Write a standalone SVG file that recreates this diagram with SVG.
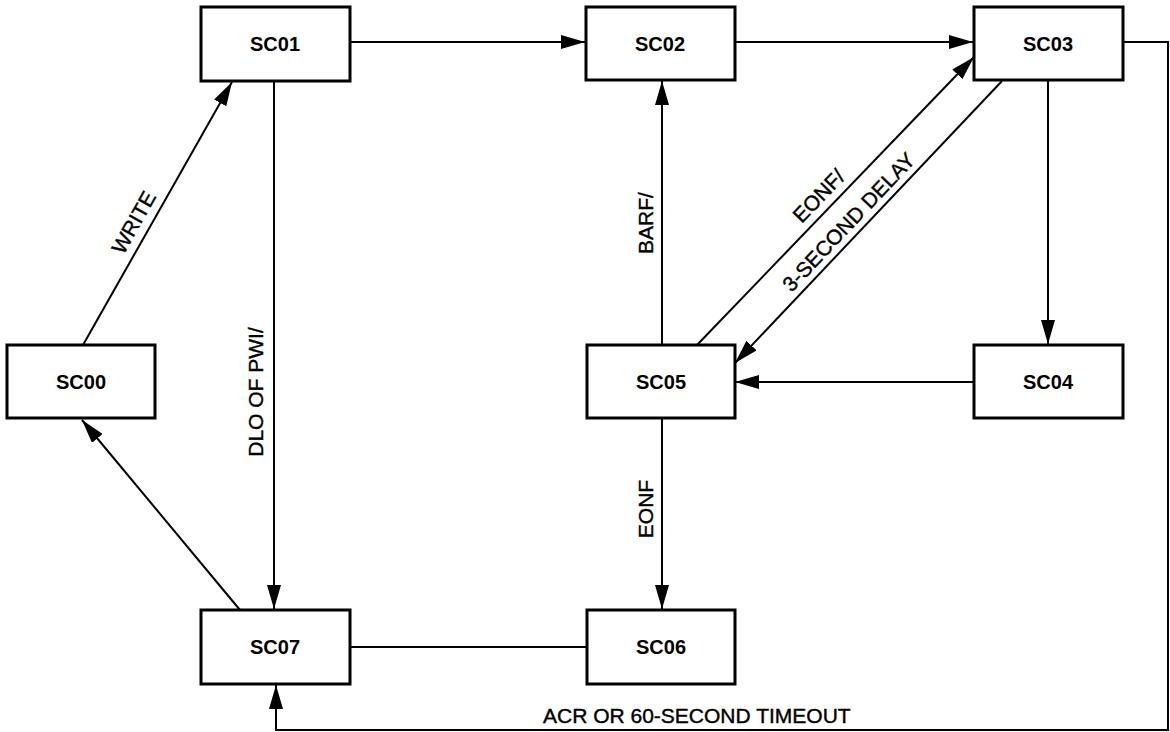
<svg xmlns="http://www.w3.org/2000/svg" width="1170" height="732" viewBox="0 0 1170 732">
<defs>
<marker id="ah" markerUnits="userSpaceOnUse" markerWidth="26" markerHeight="14" refX="24" refY="7" orient="auto">
<path d="M0,0 L24,7 L0,14 z" fill="#000"/>
</marker>
<style>
.box{fill:#fff;stroke:#000;stroke-width:3}
.nt{font-family:"Liberation Sans",Arial,sans-serif;font-weight:bold;font-size:20px;text-anchor:middle;fill:#000}
.c{fill:none;stroke:#000;stroke-width:2}
.a{marker-end:url(#ah)}
.lb{font-family:"Liberation Sans",Arial,sans-serif;font-size:21px;fill:#000;stroke:#000;stroke-width:0.4}
</style>
</defs>
<rect width="1170" height="732" fill="#fff"/>
<g id="connectors">
<line class="c a" x1="83" y1="345" x2="232" y2="82"/>
<line class="c a" x1="240" y1="610" x2="82" y2="420"/>
<line class="c a" x1="274" y1="81" x2="274" y2="609"/>
<line class="c a" x1="350" y1="42" x2="585" y2="42"/>
<line class="c a" x1="735" y1="42" x2="973" y2="42"/>
<line class="c a" x1="697" y1="345" x2="974" y2="57"/>
<line class="c a" x1="1002" y1="81" x2="735" y2="363"/>
<line class="c a" x1="662" y1="345" x2="662" y2="81"/>
<line class="c a" x1="1048" y1="81" x2="1048" y2="344"/>
<line class="c a" x1="974" y1="382" x2="735" y2="382"/>
<line class="c a" x1="662" y1="418" x2="662" y2="609"/>
<line class="c" x1="350" y1="647" x2="587" y2="647"/>
<polyline class="c a" points="1123,42 1168,42 1168,730 276,730 276,685"/>
<text class="lb" text-anchor="middle" transform="translate(140,226) rotate(-60.6)">WRITE</text>
<text class="lb" text-anchor="middle" transform="translate(263,392) rotate(-90)">DLO OF PWI/</text>
<text class="lb" text-anchor="middle" transform="translate(653,223) rotate(-90)">BARF/</text>
<text class="lb" text-anchor="middle" transform="translate(653,509) rotate(-90)">EONF</text>
<text class="lb" text-anchor="middle" transform="translate(824,201) rotate(-46.1)">EONF/</text>
<text class="lb" text-anchor="middle" transform="translate(854,227) rotate(-46.6)">3-SECOND DELAY</text>
<text class="lb" x="543" y="723">ACR OR 60-SECOND TIMEOUT</text>
</g>
<g id="SC00"><rect class="box" x="7" y="345" width="148" height="73"/><text class="nt" x="81" y="389">SC00</text></g>
<g id="SC01"><rect class="box" x="201" y="7" width="149" height="74"/><text class="nt" x="275" y="51">SC01</text></g>
<g id="SC02"><rect class="box" x="586" y="7" width="149" height="73"/><text class="nt" x="660" y="51">SC02</text></g>
<g id="SC03"><rect class="box" x="974" y="7" width="149" height="73"/><text class="nt" x="1048" y="51">SC03</text></g>
<g id="SC04"><rect class="box" x="974" y="345" width="149" height="73"/><text class="nt" x="1048" y="389">SC04</text></g>
<g id="SC05"><rect class="box" x="587" y="345" width="148" height="73"/><text class="nt" x="661" y="389">SC05</text></g>
<g id="SC06"><rect class="box" x="587" y="610" width="148" height="74"/><text class="nt" x="661" y="654">SC06</text></g>
<g id="SC07"><rect class="box" x="201" y="610" width="149" height="74"/><text class="nt" x="275" y="654">SC07</text></g>
</svg>
